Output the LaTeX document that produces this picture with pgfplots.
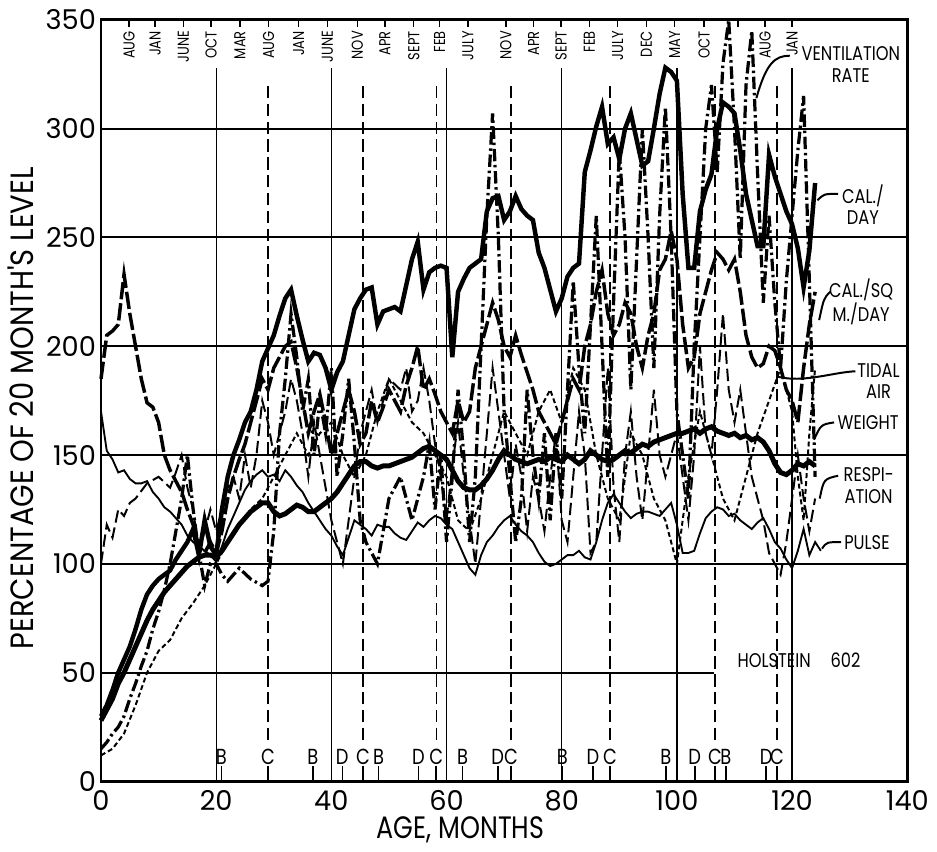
\documentclass[border=0pt]{standalone}
\usepackage{fontspec}
\setmainfont{Poppins}
\newfontfamily\cond[FakeStretch=0.82]{Poppins}
\newfontfamily\condb[FakeStretch=0.9]{Poppins}
\usepackage{pgfplots}
\pgfplotsset{compat=1.18}

% month ticks along the top, and breeding/calving marks along the bottom
\newcommand\mon[2]{\draw[line width=0.6pt] (axis cs:#1,350) -- (axis cs:#1,346.5);
  \node[rotate=90, anchor=east, inner sep=0pt, font=\cond\fontsize{6.4}{7}\selectfont] at (axis cs:#1,345) {#2};}
\newcommand\evt[2]{\draw[line width=0.6pt] (axis cs:#1,0) -- (axis cs:#1,7);
  \node[anchor=south, inner sep=0.6pt, font=\cond\fontsize{8.8}{9}\selectfont] at (axis cs:#1,7) {#2};}

\begin{document}
\begin{tikzpicture}
\begin{axis}[
  width=325.6pt, height=307.6pt, scale only axis,
  xmin=0, xmax=140, ymin=0, ymax=350,
  xtick={0,20,...,140}, ytick={0,50,...,350},
  major tick length=0pt,
  axis line style={line width=1.1pt},
  /pgf/number format/assume math mode=true,
  ticklabel style={font=\fontsize{11}{11}\selectfont},
  yticklabel style={xshift=1.5pt},
  xlabel={AGE, MONTHS},
  ylabel={PERCENTAGE OF 20 MONTH'S LEVEL},
  every axis x label/.style={at={(rel axis cs:0.446,-0.064)}, anchor=center, font=\cond\fontsize{12.5}{13}\selectfont},
  every axis y label/.style={at={(rel axis cs:-0.099,0.49)}, rotate=90, anchor=center, font=\condb\fontsize{13}{13}\selectfont},
  clip=false,
]
% grid lines
\foreach \yy in {100,150,...,300} {\edef\tmp{\noexpand\draw[line width=0.8pt] (axis cs:0,\yy) -- (axis cs:140,\yy);}\tmp}
\draw[line width=0.8pt] (axis cs:0,50) -- (axis cs:106.5,50);
\foreach \xx in {20,40,...,120} {\edef\tmp{\noexpand\draw[line width=0.5pt] (axis cs:\xx,0) -- (axis cs:\xx,328);}\tmp}
\foreach \xx in {29,45.5,58.2,71.2,88.4,106.6,117.4} {\edef\tmp{\noexpand\draw[line width=0.5pt, dash pattern=on 5pt off 2.2pt] (axis cs:\xx,19) -- (axis cs:\xx,322);}\tmp}

% PULSE
\addplot[black, line width=0.75pt] coordinates {
(0,170)(1,152)(2,148)(3,142)(4,143)(5,139)(6,137)(7,137)(8,138)(9,133)(10,130)(11,126)(12,124)(13,121)(14,118)(15,113)(16,110)(17,108)(18,106)(19,104)(20,101)(21,108)(22,116)(23,122)(24,128)(25,134)(26,138)(27,141)(28,143)(29,140)(30,141)(31,138)(32,143)(33,140)(34,136)(35,133)(36,128)(37,124)(38,120)(39,116)(40,113)(41,108)(42,104)(43,112)(44,120)(45,118)(46,116)(47,113)(48,118)(49,117)(50,117)(51,114)(52,112)(53,111)(54,115)(55,119)(56,117)(57,120)(58,122)(59,121)(60,118)(61,116)(62,110)(63,104)(64,98)(65,95)(66,104)(67,110)(68,113)(69,117)(70,120)(71,122)(72,118)(73,115)(74,113)(75,110)(76,105)(77,101)(78,99)(79,100)(80,102)(81,104)(82,104)(83,106)(84,103)(85,102)(86,110)(87,120)(88,128)(89,132)(90,128)(91,124)(92,121)(93,123)(94,124)(95,124)(96,123)(97,122)(98,125)(99,128)(100,118)(101,105)(102,105)(103,106)(104,114)(105,121)(106,124)(107,126)(108,125)(109,122)(110,123)(111,120)(112,118)(113,116)(114,119)(115,121)(116,116)(117,110)(118,107)(119,102)(120,98)(121,106)(122,116)(123,104)(124,110)(125,106)};

% WEIGHT
\addplot[black, line width=2pt] coordinates {
(0,28)(1,33)(2,38)(3,45)(4,50)(5,56)(6,62)(7,68)(8,74)(9,79)(10,83)(11,87)(12,90)(13,93)(14,96)(15,99)(16,101)(17,103)(18,104)(19,104)(20,103)(21,106)(22,110)(23,114)(24,118)(25,121)(26,124)(27,126)(28,128)(29,128)(30,124)(31,122)(32,123)(33,125)(34,127)(35,126)(36,124)(37,124)(38,126)(39,128)(40,130)(41,133)(42,137)(43,141)(44,145)(45,147)(46,147)(47,145)(48,144)(49,145)(50,145)(51,146)(52,147)(53,148)(54,149)(55,151)(56,153)(57,154)(58,152)(59,150)(60,148)(61,143)(62,138)(63,135)(64,134)(65,134)(66,136)(67,139)(68,143)(69,148)(70,152)(71,150)(72,148)(73,147)(74,146)(75,147)(76,148)(77,147)(78,149)(79,148)(80,147)(81,150)(82,148)(83,146)(84,148)(85,152)(86,150)(87,148)(88,147)(89,148)(90,150)(91,152)(92,151)(93,153)(94,155)(95,154)(96,156)(97,157)(98,158)(99,159)(100,160)(101,160)(102,161)(103,162)(104,160)(105,162)(106,163)(107,161)(108,160)(109,159)(110,160)(111,158)(112,159)(113,157)(114,158)(115,156)(116,152)(117,146)(118,142)(119,141)(120,143)(121,146)(122,145)(123,147)(124,145)};

% CAL./DAY
\addplot[black, line width=1.8pt] coordinates {
(0,30)(1,35)(2,42)(3,50)(4,56)(5,62)(6,70)(7,79)(8,86)(9,90)(10,93)(11,95)(12,97)(13,102)(14,106)(15,110)(16,116)(17,104)(18,120)(19,108)(20,104)(21,125)(22,140)(23,150)(24,157)(25,165)(26,170)(27,180)(28,193)(29,199)(30,205)(31,214)(32,222)(33,226)(34,214)(35,203)(36,193)(37,197)(38,196)(39,190)(40,180)(41,188)(42,193)(43,205)(44,217)(45,222)(46,226)(47,227)(48,210)(49,216)(50,217)(51,218)(52,216)(53,228)(54,240)(55,248)(56,226)(57,234)(58,236)(59,237)(60,236)(61,195)(62,225)(63,231)(64,236)(65,238)(66,240)(67,262)(68,268)(69,269)(70,258)(71,262)(72,269)(73,263)(74,260)(75,258)(76,243)(77,236)(78,226)(79,216)(80,222)(81,232)(82,236)(83,238)(84,280)(85,290)(86,301)(87,310)(88,293)(89,296)(90,286)(91,300)(92,307)(93,295)(94,283)(95,285)(96,300)(97,316)(98,328)(99,326)(100,322)(101,270)(102,236)(103,236)(104,262)(105,272)(106,279)(107,300)(108,312)(109,310)(110,307)(111,290)(112,270)(113,258)(114,246)(115,246)(116,288)(117,278)(118,270)(119,262)(120,256)(121,245)(122,227)(123,244)(124,275)};

% CAL./SQ M./DAY
\addplot[black, line width=1.4pt, dash pattern=on 7pt off 1.6pt] coordinates {
(0,185)(1,205)(2,207)(3,210)(4,233)(5,215)(6,200)(7,185)(8,174)(9,172)(10,165)(11,150)(12,143)(13,138)(14,133)(15,125)(16,118)(17,108)(18,105)(19,110)(20,105)(21,115)(22,130)(23,140)(24,148)(25,155)(26,165)(27,175)(28,185)(29,180)(30,190)(31,195)(32,200)(33,202)(34,190)(35,175)(36,160)(37,170)(38,178)(39,165)(40,150)(41,160)(42,170)(43,180)(44,170)(45,155)(46,160)(47,175)(48,165)(49,172)(50,180)(51,175)(52,170)(53,182)(54,190)(55,200)(56,180)(57,185)(58,178)(59,170)(60,165)(61,160)(62,175)(63,165)(64,170)(65,190)(66,200)(67,210)(68,220)(69,212)(70,200)(71,195)(72,205)(73,196)(74,188)(75,180)(76,170)(77,165)(78,160)(79,155)(80,165)(81,175)(82,185)(83,180)(84,200)(85,210)(86,225)(87,235)(88,215)(89,205)(90,210)(91,220)(92,215)(93,200)(94,190)(95,205)(96,215)(97,235)(98,240)(99,253)(100,240)(101,210)(102,190)(103,195)(104,215)(105,225)(106,235)(107,243)(108,240)(109,235)(110,240)(111,225)(112,205)(113,195)(114,190)(115,192)(116,200)(117,198)(118,190)(119,180)(120,175)(121,165)(122,190)(123,210)(124,225)};

% TIDAL AIR
\addplot[black, line width=0.8pt, dash pattern=on 2pt off 1.2pt] coordinates {
(0,12)(2,15)(4,22)(6,35)(8,50)(10,60)(12,65)(14,75)(16,82)(18,90)(20,100)(22,110)(24,118)(26,125)(28,130)(30,140)(32,150)(34,160)(36,150)(38,160)(40,165)(42,150)(44,140)(46,150)(48,170)(50,185)(52,175)(54,165)(56,160)(58,150)(60,140)(62,120)(64,115)(66,130)(68,150)(70,170)(72,160)(74,150)(76,170)(78,180)(80,165)(82,190)(84,180)(86,150)(88,130)(90,120)(92,160)(94,150)(96,130)(98,120)(100,100)(102,140)(104,170)(106,150)(108,130)(110,120)(112,140)(114,160)(116,175)(118,190)(120,170)(121,140)(122,120)(123,160)(124,190)};

% RESPIRATION
\addplot[black, line width=0.8pt, dash pattern=on 5pt off 2pt] coordinates {
(0,100)(1,118)(2,112)(3,125)(4,122)(5,128)(6,130)(8,137)(10,140)(12,135)(13,142)(14,150)(15,135)(16,125)(17,105)(18,115)(19,125)(20,115)(21,125)(22,135)(23,140)(24,130)(25,150)(26,135)(27,150)(28,175)(29,165)(30,150)(31,160)(32,170)(33,185)(34,175)(35,160)(36,140)(37,165)(38,150)(39,135)(40,120)(41,110)(42,100)(43,120)(44,140)(45,160)(46,170)(47,180)(48,165)(49,175)(50,185)(52,180)(53,190)(54,170)(55,175)(56,190)(57,175)(58,155)(59,140)(60,120)(61,145)(62,165)(63,140)(64,120)(65,100)(66,130)(67,160)(68,190)(69,170)(70,150)(71,130)(72,155)(73,140)(74,115)(75,140)(76,130)(77,115)(78,140)(79,160)(80,120)(81,110)(82,140)(83,170)(84,150)(85,105)(86,110)(87,150)(88,190)(89,135)(90,110)(91,150)(92,170)(93,140)(94,120)(95,150)(96,180)(97,150)(98,140)(99,150)(100,160)(101,140)(102,120)(103,150)(104,200)(105,160)(106,150)(107,180)(108,215)(109,180)(110,165)(111,180)(112,160)(113,140)(114,130)(115,120)(116,105)(117,100)(118,95)(119,110)(120,130)(121,150)(122,130)(123,115)(124,130)};

% VENTILATION RATE
\addplot[black, line width=1.3pt, dash pattern=on 5pt off 1.5pt on 1pt off 1.5pt] coordinates {
(0,15)(1,18)(2,22)(3,25)(4,30)(5,38)(6,45)(7,53)(8,60)(9,70)(10,78)(11,88)(12,100)(13,115)(14,130)(15,150)(16,125)(17,105)(18,90)(19,100)(20,100)(21,95)(22,92)(24,98)(26,93)(28,90)(29,92)(30,115)(31,160)(32,185)(33,215)(34,195)(35,170)(36,185)(37,150)(38,175)(39,160)(40,190)(41,140)(42,160)(43,185)(44,155)(45,120)(46,110)(47,105)(48,100)(49,115)(50,130)(51,135)(52,140)(53,130)(54,120)(55,130)(56,140)(57,155)(58,125)(59,150)(60,110)(61,140)(62,180)(63,150)(64,110)(65,140)(66,200)(67,260)(68,307)(69,250)(70,170)(71,140)(72,110)(73,130)(74,180)(75,150)(76,130)(77,160)(78,120)(79,160)(80,130)(81,180)(82,230)(83,190)(84,160)(85,210)(86,260)(87,200)(88,140)(89,220)(90,290)(91,250)(92,180)(93,240)(94,300)(95,250)(96,190)(97,260)(98,310)(99,250)(100,170)(101,150)(102,130)(103,200)(104,250)(105,300)(106,320)(107,280)(108,330)(109,350)(110,300)(111,240)(112,320)(113,345)(114,280)(115,220)(116,260)(117,220)(118,190)(119,230)(120,260)(121,290)(122,315)(123,230)(124,140)};

% month labels along the top
\mon{4.9}{AUG}\mon{9.4}{JAN}\mon{14.3}{JUNE}\mon{19.1}{OCT}\mon{24.1}{MAR}\mon{29.1}{AUG}
\mon{34.3}{JAN}\mon{39.3}{JUNE}\mon{44.5}{NOV}\mon{49.3}{APR}\mon{54.3}{SEPT}\mon{58.8}{FEB}
\mon{63.7}{JULY}\mon{70.3}{NOV}\mon{75.1}{APR}\mon{79.9}{SEPT}\mon{84.8}{FEB}\mon{89.7}{JULY}
\mon{94.7}{DEC}\mon{99.6}{MAY}\mon{104.7}{OCT}\mon{110.6}{}\mon{115.3}{AUG}\mon{120}{JAN}

% B / C / D marks along the bottom
\evt{20.9}{B}\evt{29}{C}\evt{36.8}{B}\evt{41.9}{D}\evt{45.5}{C}\evt{48.2}{B}
\evt{55.1}{D}\evt{58.2}{C}\evt{62.8}{B}\evt{68.9}{D}\evt{71.2}{C}\evt{80.1}{B}
\evt{85.4}{D}\evt{88.4}{C}\evt{98.1}{B}\evt{103.1}{D}\evt{106.6}{C}\evt{108.5}{B}
\evt{115.5}{D}\evt{117.4}{C}

% series names with their pointers
\begin{scope}[every node/.style={font=\cond\fontsize{8}{8.6}\selectfont, align=center, inner sep=0pt}]
\node at (axis cs:130.2,329.5) {VENTILATION\\RATE};
\draw[line width=0.8pt] (axis cs:113.8,314) .. controls (axis cs:115.5,330) and (axis cs:117,333.5) .. (axis cs:119.6,333.5);
\node at (axis cs:132.3,265) {CAL./\\DAY};
\draw[line width=0.8pt] (axis cs:124.4,267) .. controls (axis cs:125.5,270) .. (axis cs:128,270);
\node at (axis cs:132,220.5) {CAL./SQ\\M./DAY};
\draw[line width=0.8pt] (axis cs:124.7,212) .. controls (axis cs:125.5,222) .. (axis cs:126.6,225);
\node at (axis cs:135,184) {TIDAL\\AIR};
\draw[line width=0.8pt] (axis cs:117.5,186) .. controls (axis cs:122,183) and (axis cs:127,188) .. (axis cs:131,188.5);
\node at (axis cs:133.2,164.7) {WEIGHT};
\draw[line width=0.8pt] (axis cs:123.8,157) .. controls (axis cs:125,164) .. (axis cs:127.3,165);
\node at (axis cs:133.3,136) {RESPI-\\ATION};
\draw[line width=0.8pt] (axis cs:124.8,130) .. controls (axis cs:125.5,139) .. (axis cs:128,140.5);
\node at (axis cs:133,109.7) {PULSE};
\draw[line width=0.8pt] (axis cs:125.2,107) .. controls (axis cs:126,110) .. (axis cs:128.5,110);
\node at (axis cs:121.2,55.5) {HOLSTEIN\quad 602};
\end{scope}
\end{axis}
\path (rel axis cs:-0.119,-0.082) rectangle (rel axis cs:1.032,1.026);
\end{tikzpicture}
\end{document}
